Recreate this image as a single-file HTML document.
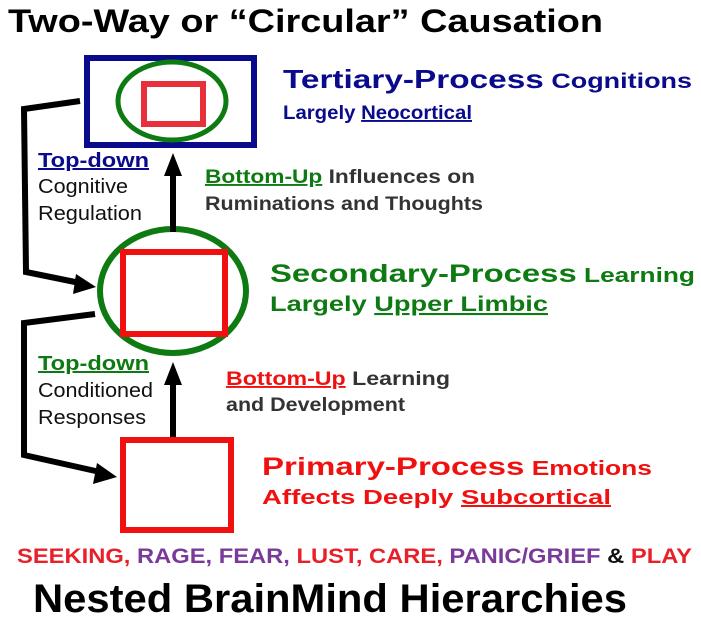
<!DOCTYPE html>
<html><head><meta charset="utf-8"><style>
html,body{margin:0;padding:0;background:#fff;}
svg{display:block;}
text{font-family:"Liberation Sans",Arial,sans-serif;font-weight:bold;}
.n{font-weight:normal;}
</style></head><body>
<svg width="701" height="620" viewBox="0 0 701 620" xmlns="http://www.w3.org/2000/svg">
<text x="8" y="32" font-size="32" fill="#000" textLength="595" lengthAdjust="spacingAndGlyphs">Two-Way or “Circular” Causation</text>

<rect x="87" y="58" width="167" height="87" fill="none" stroke="#0a0a8c" stroke-width="6"/>
<ellipse cx="172" cy="101" rx="54" ry="39" fill="none" stroke="#0e7a12" stroke-width="5"/>
<rect x="144" y="84" width="59" height="40" fill="none" stroke="#e8303a" stroke-width="6"/>

<ellipse cx="173" cy="291" rx="73" ry="62" fill="none" stroke="#0e7a12" stroke-width="6"/>
<rect x="123" y="252" width="102" height="82" fill="none" stroke="#f01010" stroke-width="6"/>

<rect x="123" y="440" width="108" height="90" fill="none" stroke="#f01010" stroke-width="6"/>

<line x1="173" y1="232" x2="173" y2="172" stroke="#000" stroke-width="6"/>
<polygon points="173,153 164,176 182,176" fill="#000"/>
<line x1="173" y1="437" x2="173" y2="380" stroke="#000" stroke-width="6"/>
<polygon points="173,362 164,385 182,385" fill="#000"/>

<polyline points="80,101 24,109 26,272 80,283" fill="none" stroke="#000" stroke-width="6"/>
<polygon points="96,287 76,274 73,294" fill="#000"/>
<polyline points="95,314 24,323 24,455 100,472" fill="none" stroke="#000" stroke-width="6"/>
<polygon points="117,477 97,463 93,484" fill="#000"/>

<text x="283" y="88" fill="#0a0a8c" textLength="409" lengthAdjust="spacingAndGlyphs"><tspan font-size="26">Tertiary-Process</tspan><tspan font-size="21"> Cognitions</tspan></text>
<text x="283" y="119" font-size="19" fill="#0a0a8c" textLength="189" lengthAdjust="spacingAndGlyphs">Largely <tspan text-decoration="underline">Neocortical</tspan></text>

<text x="38" y="167" font-size="20" fill="#0a0a8c" text-decoration="underline" textLength="111" lengthAdjust="spacingAndGlyphs">Top-down</text>
<text x="38" y="193" font-size="20" class="n" fill="#111" textLength="90" lengthAdjust="spacingAndGlyphs">Cognitive</text>
<text x="38" y="220" font-size="20" class="n" fill="#111" textLength="104" lengthAdjust="spacingAndGlyphs">Regulation</text>

<text x="205" y="183" font-size="19" fill="#333" textLength="270" lengthAdjust="spacingAndGlyphs"><tspan fill="#0e7a12" text-decoration="underline">Bottom-Up</tspan> Influences on</text>
<text x="205" y="210" font-size="19" fill="#333" textLength="278" lengthAdjust="spacingAndGlyphs">Ruminations and Thoughts</text>

<text x="270" y="282" fill="#0e7a12" textLength="425" lengthAdjust="spacingAndGlyphs"><tspan font-size="25">Secondary-Process</tspan><tspan font-size="20"> Learning</tspan></text>
<text x="270" y="311" font-size="21" fill="#0e7a12" textLength="278" lengthAdjust="spacingAndGlyphs">Largely <tspan text-decoration="underline">Upper Limbic</tspan></text>

<text x="38" y="370" font-size="20" fill="#0e7a12" text-decoration="underline" textLength="111" lengthAdjust="spacingAndGlyphs">Top-down</text>
<text x="38" y="397" font-size="20" class="n" fill="#111" textLength="115" lengthAdjust="spacingAndGlyphs">Conditioned</text>
<text x="38" y="424" font-size="20" class="n" fill="#111" textLength="108" lengthAdjust="spacingAndGlyphs">Responses</text>

<text x="226" y="385" font-size="19" fill="#333" textLength="224" lengthAdjust="spacingAndGlyphs"><tspan fill="#f01010" text-decoration="underline">Bottom-Up</tspan> Learning</text>
<text x="226" y="411" font-size="19" fill="#333" textLength="179" lengthAdjust="spacingAndGlyphs">and Development</text>

<text x="262" y="475" fill="#f01010" textLength="390" lengthAdjust="spacingAndGlyphs"><tspan font-size="25">Primary-Process</tspan><tspan font-size="20"> Emotions</tspan></text>
<text x="262" y="504" font-size="20" fill="#f01010" textLength="349" lengthAdjust="spacingAndGlyphs">Affects Deeply <tspan text-decoration="underline">Subcortical</tspan></text>

<text x="17" y="563" font-size="21" textLength="675" lengthAdjust="spacingAndGlyphs"><tspan fill="#e8202a">SEEKING, </tspan><tspan fill="#7a3a9a">RAGE, FEAR, </tspan><tspan fill="#e8202a">LUST, CARE, </tspan><tspan fill="#7a3a9a">PANIC/GRIEF </tspan><tspan fill="#111">&amp; </tspan><tspan fill="#e8202a">PLAY</tspan></text>
<text x="33" y="612" font-size="40" fill="#000" textLength="594" lengthAdjust="spacingAndGlyphs">Nested BrainMind Hierarchies</text>
</svg>
</body></html>
